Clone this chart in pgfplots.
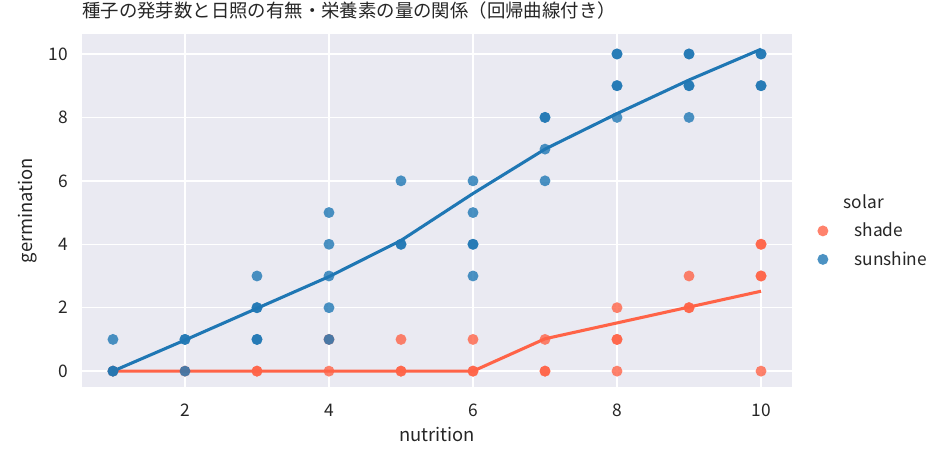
\documentclass[border=0pt]{standalone}
\usepackage{fontspec}
\setmainfont{Noto Sans CJK JP}
\usepackage{pgfplots}
\pgfplotsset{compat=1.18}
\definecolor{sbbg}{HTML}{EAEAF2}
\definecolor{shadec}{RGB}{255,99,71}
\definecolor{sunc}{RGB}{31,119,180}
\definecolor{txt}{HTML}{262626}
\begin{document}
\begin{tikzpicture}
\useasboundingbox (-61.5pt,-54pt) rectangle (645.75pt,290.25pt);
\begin{axis}[
  at={(0,0)}, anchor=south west,
  scale only axis, width=532.5pt, height=264.75pt,
  xmin=0.57, xmax=10.43, ymin=-0.5, ymax=10.63,
  xtick={2,4,6,8,10}, ytick={0,2,4,6,8,10},
  axis background/.style={fill=sbbg},
  axis line style={draw=none},
  major tick length=0pt,
  grid=major, grid style={white, line width=1pt},
  /pgf/number format/assume math mode=true,
  tick label style={font=\fontsize{13}{15}\selectfont, text=txt},
  yticklabel style={xshift=-7pt},
  xticklabel style={yshift=-9pt},
  label style={font=\fontsize{13.8}{16}\selectfont, text=txt},
  xlabel={nutrition},
  xlabel style={at={(axis description cs:0.5,0)}, anchor=base, yshift=-41pt},
  ylabel={germination},
  ylabel style={at={([xshift=-40.5pt]axis description cs:0,0.5)}, anchor=center},
  title={種子の発芽数と日照の有無・栄養素の量の関係（回帰曲線付き）},
  title style={at={(axis description cs:0,1)}, anchor=base west, inner xsep=0pt, yshift=6.5pt, font=\fontsize{13.8}{16}\selectfont, text=txt},
  legend style={at={(axis description cs:1.0215,0.561)}, anchor=north west, draw=none, fill=none,
    font=\fontsize{13}{15}\selectfont, text=txt, cells={anchor=west}, row sep=5.5pt,
    /tikz/every odd column/.append style={column sep=17.5pt}},
  legend cell align=left,
]
\addlegendimage{empty legend}
\addlegendentry{\hspace{-8pt}solar}
\addplot[only marks, mark=*, mark size=4.1pt, color=shadec, mark options={draw opacity=0, fill=shadec, fill opacity=0.8}] table {
1 0
2 0
3 0
3 0
4 0
4 1
5 0
5 0
5 1
6 0
6 0
6 1
7 0
7 0
7 1
8 0
8 1
8 1
8 2
9 2
9 2
9 3
10 0
10 3
10 3
10 4
10 4
};
\addlegendentry{shade}
\addplot[shadec, line width=2.3pt, no marks, forget plot] table {
1 0
2 0
3 0
4 0
5 0
6 0
7 1.02
8 1.52
9 2.02
10 2.52
};
\addplot[only marks, mark=*, mark size=4.1pt, color=sunc, mark options={draw opacity=0, fill=sunc, fill opacity=0.8}] table {
1 0
1 0
1 1
2 0
2 1
2 1
3 1
3 1
3 2
3 2
3 3
4 1
4 2
4 3
4 4
4 5
5 4
5 4
5 6
6 3
6 4
6 4
6 5
6 6
7 6
7 7
7 8
7 8
8 8
8 9
8 9
8 10
8 10
9 8
9 9
9 9
9 10
9 10
10 9
10 9
10 10
10 10
};
\addlegendentry{sunshine}
\addplot[sunc, line width=2.3pt, no marks, forget plot] table {
1 0
2 0.98
3 1.98
4 2.98
5 4.12
6 5.6
7 7.0
8 8.12
9 9.18
10 10.15
};
\end{axis}
\end{tikzpicture}
\end{document}
